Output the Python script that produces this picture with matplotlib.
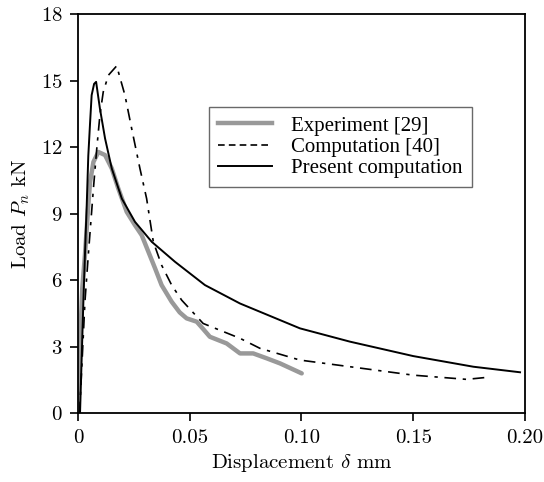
import matplotlib
matplotlib.use("Agg")
import matplotlib.pyplot as plt
from matplotlib.lines import Line2D

plt.rcParams['mathtext.fontset'] = 'cm'
plt.rcParams['axes.formatter.use_mathtext'] = True

# Experiment [29]
exp_x = [0.0, 0.0008, 0.0019, 0.0031, 0.0046, 0.0054, 0.0069, 0.0091, 0.0121, 0.0151,
         0.018, 0.0218, 0.0255, 0.0285, 0.0315, 0.0345, 0.0374, 0.0419, 0.0455, 0.0486,
         0.0531, 0.056, 0.059, 0.0665, 0.0725, 0.0784, 0.0844, 0.0904, 0.1001]
exp_y = [0.0, 2.8, 5.63, 7.13, 9.38, 10.43, 11.33, 11.78, 11.64, 11.04,
         10.14, 9.08, 8.48, 8.03, 7.28, 6.53, 5.78, 5.03, 4.55, 4.28,
         4.13, 3.8, 3.45, 3.15, 2.70, 2.70, 2.48, 2.25, 1.80]

# Computation [40]
c40_x = [0.0007, 0.0031, 0.0046, 0.0069, 0.0084, 0.0098, 0.0113, 0.0136, 0.0173, 0.021,
         0.024, 0.0277, 0.0307, 0.0337, 0.0374, 0.0419, 0.0464, 0.056, 0.0725, 0.0814,
         0.0993, 0.1217, 0.150, 0.1739, 0.1829]
c40_y = [0.0, 5.03, 7.13, 10.14, 11.94, 13.44, 14.49, 15.24, 15.66, 14.34,
         12.84, 11.04, 9.68, 7.73, 6.68, 5.78, 5.10, 4.05, 3.38, 2.93,
         2.40, 2.10, 1.72, 1.53, 1.62]

# Present computation
pc_x = [0.0009, 0.0024, 0.0031, 0.0039, 0.0046, 0.0054, 0.0061, 0.0072, 0.0081, 0.0098,
        0.0121, 0.0151, 0.0196, 0.0255, 0.033, 0.0434, 0.0568, 0.0725, 0.0993, 0.1217,
        0.150, 0.1769, 0.1978]
pc_y = [0.0, 5.03, 7.13, 9.38, 11.6, 13.1, 14.34, 14.85, 14.94, 13.74,
        12.39, 11.04, 9.68, 8.63, 7.73, 6.83, 5.78, 4.95, 3.83, 3.23,
        2.58, 2.10, 1.85]

labels = ['Experiment [29]', 'Computation [40]', 'Present computation']
xticks = [0, 0.05, 0.10, 0.15, 0.20]
xticklabels = ['0', '0.05', '0.10', '0.15', '0.20']
yticks = [0, 3, 6, 9, 12, 15, 18]

fig = plt.figure(figsize=(5.44, 4.82), dpi=100)
ax = fig.add_axes([0.1434, 0.1425, 0.965 - 0.1434, 0.971 - 0.1425])

ax.plot(exp_x, exp_y, color='#999999', lw=3.2, solid_capstyle='round',
        solid_joinstyle='round')
ax.plot(c40_x, c40_y, color='black', lw=1.2, dashes=(7, 4, 2, 4))
ax.plot(pc_x, pc_y, color='black', lw=1.4, solid_joinstyle='round')

ax.set_xlim(0, 0.20)
ax.set_ylim(0, 18)
ax.set_xticks(xticks)
ax.set_xticklabels(xticklabels)
ax.set_yticks(yticks)

for lab in ax.get_xticklabels() + ax.get_yticklabels():
    lab.set_fontfamily('cmr10')
    lab.set_fontsize(15)

ax.tick_params(direction='out', length=6, width=1.2, top=False, right=False, pad=5)
for s in ax.spines.values():
    s.set_linewidth(1.3)

ax.set_xlabel(r'Displacement $\delta$ mm', fontfamily='cmr10', fontsize=15, labelpad=4)
ax.set_ylabel(r'Load $P_n$ kN', fontfamily='cmr10', fontsize=15, labelpad=6)

handles = [Line2D([], [], color='#999999', lw=3.2),
           Line2D([], [], color='black', lw=1.2, dashes=(4, 2.5)),
           Line2D([], [], color='black', lw=1.4)]
leg = ax.legend(handles, labels, loc='upper left', bbox_to_anchor=(0.292, 0.768),
                prop=dict(family='Liberation Serif', size=15), frameon=True,
                fancybox=False, edgecolor='#444444', handlelength=2.6,
                labelspacing=0.08, borderpad=0.45, handletextpad=0.9, borderaxespad=0)
leg.get_frame().set_linewidth(1.0)

fig.savefig('out.png', dpi=100)
